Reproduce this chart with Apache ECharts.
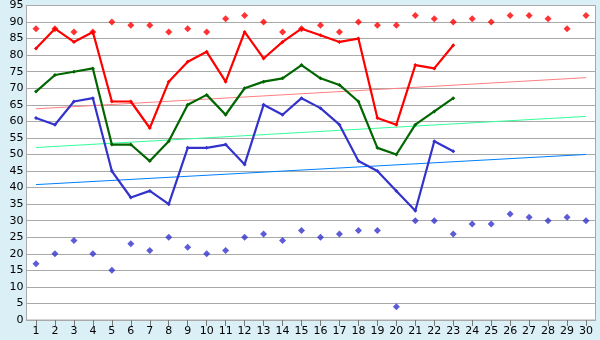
<!DOCTYPE html>
<html>
<head>
<meta charset="utf-8">
<script src="https://cdn.jsdelivr.net/npm/echarts@6/dist/echarts.min.js"></script>
<style>
html,body{margin:0;padding:0;background:#DAEFF6;}
#c{width:600px;height:340px;}
</style>
</head>
<body>
<div id="c"></div>
<script>
var categories = ['1','2','3','4','5','6','7','8','9','10','11','12','13','14','15','16','17','18','19','20','21','22','23','24','25','26','27','28','29','30'];
var yTicks = [0,5,10,15,20,25,30,35,40,45,50,55,60,65,70,75,80,85,90,95];
var redLine = [82,88,84,87,66,66,58,72,78,81,72,87,79,84,88,86,84,85,61,59,77,76,83];
var greenLine = [69,74,75,76,53,53,48,54,65,68,62,70,72,73,77,73,71,66,52,50,59,63,67];
var blueLine = [61,59,66,67,45,37,39,35,52,52,53,47,65,62,67,64,59,48,45,39,33,54,51];
var redPoints = [88,88,87,87,90,89,89,87,88,87,91,92,90,87,88,89,87,90,89,89,92,91,90,91,90,92,92,91,88,92];
var bluePoints = [17,20,24,20,15,23,21,25,22,20,21,25,26,24,27,25,26,27,27,4,30,30,26,29,29,32,31,30,31,30];
var redTrend = [63.8, 73.2];
var greenTrend = [52.1, 61.5];
var blueTrend = [40.9, 50.0];

function trend(ends){
  return [[categories[0], ends[0]], [categories[categories.length-1], ends[1]]];
}
function lineSeries(data, color){
  return {type:'line', data:data, symbol:'diamond', symbolSize:4, showSymbol:true,
    lineStyle:{color:color, width:2.2}, itemStyle:{color:color}, animation:false, z:3};
}
function trendSeries(ends, color){
  return {type:'line', data:trend(ends), symbol:'none', lineStyle:{color:color, width:1}, animation:false, z:2};
}
function scatterSeries(data, color){
  return {type:'scatter', data:data, symbol:'diamond', symbolSize:7, itemStyle:{color:color}, animation:false, z:4};
}

var chart = echarts.init(document.getElementById('c'), null, {renderer:'canvas'});
chart.setOption({
  backgroundColor:'#DAEFF6',
  grid:{left:26.5, right:4.5, top:5, bottom:20, show:true, backgroundColor:'#ffffff', borderColor:'#A9A9A9', borderWidth:1},
  xAxis:{type:'category', data:categories, boundaryGap:true,
    axisLine:{lineStyle:{color:'#A9A9A9', width:1}},
    axisTick:{show:true, alignWithLabel:true, length:6, lineStyle:{color:'#777'}},
    axisLabel:{color:'#000', fontFamily:'DejaVu Sans', fontSize:11, margin:6, interval:0},
    splitLine:{show:false}},
  yAxis:{type:'value', min:yTicks[0], max:yTicks[yTicks.length-1], interval:5,
    axisLine:{show:true, lineStyle:{color:'#A9A9A9'}},
    axisTick:{show:false},
    axisLabel:{color:'#000', fontFamily:'DejaVu Sans', fontSize:11, margin:3},
    splitLine:{lineStyle:{color:'#A9A9A9', width:1}}},
  series:[
    trendSeries(redTrend, '#FF8080'),
    trendSeries(greenTrend, '#33FF99'),
    trendSeries(blueTrend, '#0080FF'),
    lineSeries(redLine, '#FF0000'),
    lineSeries(greenLine, '#006600'),
    lineSeries(blueLine, '#3333CC'),
    scatterSeries(redPoints, '#FF0000'),
    scatterSeries(bluePoints, '#3333CC')
  ]
});
</script>
</body>
</html>
